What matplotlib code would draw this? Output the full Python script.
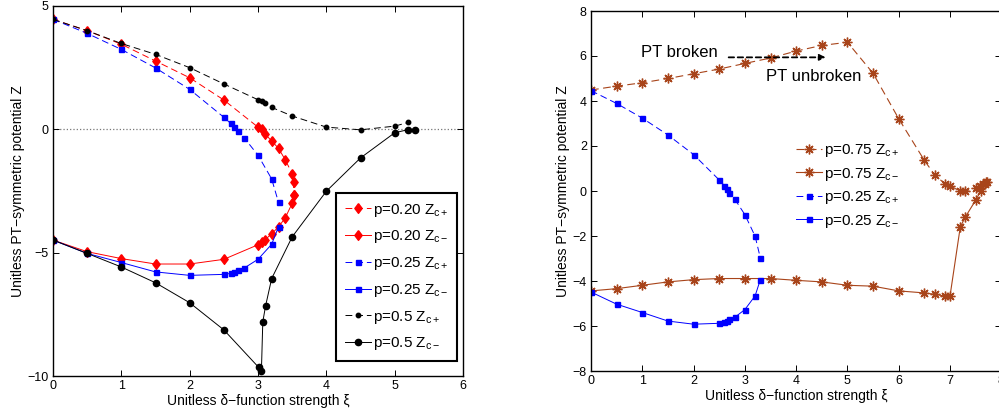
import matplotlib
matplotlib.use("Agg")
import matplotlib.pyplot as plt

plt.rcParams["font.family"] = ["Liberation Sans", "DejaVu Sans"]
plt.rcParams["mathtext.fontset"] = "custom"
plt.rcParams["mathtext.rm"] = "Liberation Sans"
plt.rcParams["mathtext.it"] = "Liberation Sans:italic"
plt.rcParams["lines.dashed_pattern"] = (7, 4)

# ---- left panel data ----
x20_plus = [0, 0.5, 1, 1.5, 2, 2.5, 3.0, 3.06, 3.1, 3.2, 3.3, 3.4, 3.5, 3.52, 3.52]
z20_plus = [4.46, 4.0, 3.45, 2.77, 2.09, 1.19, 0.09, 0.0, -0.18, -0.47, -0.77, -1.24, -1.8, -2.13, -2.66]
x20_minus = [0, 0.5, 1, 1.5, 2, 2.5, 3.0, 3.06, 3.1, 3.2, 3.3, 3.4, 3.5, 3.52]
z20_minus = [-4.49, -4.96, -5.24, -5.46, -5.46, -5.27, -4.68, -4.58, -4.49, -4.23, -3.96, -3.58, -3.0, -2.66]

x25_plus = [0, 0.5, 1, 1.5, 2, 2.5, 2.6, 2.65, 2.7, 2.8, 3.0, 3.2, 3.3]
z25_plus = [4.46, 3.89, 3.24, 2.49, 1.62, 0.49, 0.24, 0.09, -0.07, -0.35, -1.05, -2.01, -2.96]
x25_minus = [0, 0.5, 1, 1.5, 2, 2.5, 2.6, 2.65, 2.7, 2.8, 3.0, 3.2, 3.3]
z25_minus = [-4.49, -5.03, -5.4, -5.78, -5.92, -5.88, -5.84, -5.77, -5.7, -5.62, -5.27, -4.66, -3.95]

x50_plus = [0, 0.5, 1, 1.5, 2, 2.5, 3.0, 3.06, 3.1, 3.2, 3.5, 4.0, 4.5, 5.0, 5.2]
z50_plus = [4.46, 4.0, 3.48, 3.04, 2.5, 1.84, 1.2, 1.13, 1.08, 0.89, 0.54, 0.09, -0.02, 0.13, 0.28]
x50_minus = [0, 0.5, 1, 1.5, 2, 2.5, 3.01, 3.05, 3.07, 3.11, 3.2, 3.5, 4.0, 4.5, 5.0, 5.2, 5.3]
z50_minus = [-4.49, -5.03, -5.58, -6.22, -7.03, -8.13, -9.65, -9.79, -7.81, -7.17, -6.05, -4.36, -2.51, -1.16, -0.14, -0.01, -0.03]

# ---- right panel data ----
x75_plus = [0, 0.5, 1, 1.5, 2, 2.5, 3, 3.5, 4, 4.5, 5, 5.5, 6, 6.5, 6.7, 6.9, 7.0,
            7.2, 7.3, 7.5, 7.58, 7.65, 7.7]
z75_plus = [4.49, 4.66, 4.81, 5.0, 5.21, 5.42, 5.67, 5.91, 6.22, 6.47, 6.61, 5.23, 3.21, 1.36, 0.72, 0.32, 0.23,
            -0.01, 0.0, 0.14, 0.21, 0.29, 0.38]
x75_minus = [0, 0.5, 1, 1.5, 2, 2.5, 3, 3.5, 4, 4.5, 5, 5.5, 6, 6.5, 6.7, 6.9, 7.0,
             7.2, 7.3, 7.5, 7.6, 7.68, 7.73]
z75_minus = [-4.44, -4.34, -4.19, -4.04, -3.94, -3.89, -3.89, -3.89, -3.97, -4.04, -4.19, -4.23, -4.44, -4.53,
             -4.59, -4.67, -4.67, -1.6, -1.15, -0.41, 0.0, 0.32, 0.39]

brown = "#a8441a"

fig = plt.figure(figsize=(9.99, 4.11), dpi=100)
ax1 = fig.add_axes([53 / 999, 35 / 411, 410 / 999, 370 / 411])
ax2 = fig.add_axes([591 / 999, 40 / 411, 410.3 / 999, 360 / 411])

diamond = [(0, 1), (0.75, 0), (0, -1), (-0.75, 0), (0, 1)]

# left panel
ax1.axhline(0, color="#777777", linestyle=":", linewidth=0.9, zorder=1)
ax1.plot(x20_plus, z20_plus, "--", color="red", marker=diamond, markersize=7, lw=0.7,
         label=r"p=0.20 Z$_{\mathrm{c+}}$")
ax1.plot(x20_minus, z20_minus, "-", color="red", marker=diamond, markersize=7, lw=0.7,
         label=r"p=0.20 Z$_{\mathrm{c-}}$")
ax1.plot(x25_plus, z25_plus, "--", color="blue", marker="s", markersize=3.6, lw=0.7,
         label=r"p=0.25 Z$_{\mathrm{c+}}$")
ax1.plot(x25_minus, z25_minus, "-", color="blue", marker="s", markersize=3.6, lw=0.7,
         label=r"p=0.25 Z$_{\mathrm{c-}}$")
ax1.plot(x50_plus, z50_plus, "--", color="black", marker="o", markersize=3.2, lw=0.7,
         label=r"p=0.5 Z$_{\mathrm{c+}}$")
ax1.plot(x50_minus, z50_minus, "-", color="black", marker="o", markersize=4.5, lw=0.7,
         label=r"p=0.5 Z$_{\mathrm{c-}}$")
ax1.set_xlim(0, 6)
ax1.set_ylim(-10, 5)
ax1.set_xticks(range(0, 7))
ax1.set_yticks([-10, -5, 0, 5])
ax1.set_xlabel("Unitless \u03b4\u2212function strength \u03be", fontsize=10, labelpad=1)
ax1.set_ylabel("Unitless PT\u2212symmetric potential Z", fontsize=10, labelpad=2)
leg1 = ax1.legend(loc="lower right", bbox_to_anchor=(0.985, 0.041), borderaxespad=0,
                  fontsize=11, handlelength=1.7, handletextpad=0.15, labelspacing=0.64,
                  fancybox=False, edgecolor="black", framealpha=1, borderpad=0.55)
leg1.get_frame().set_linewidth(1.5)

# right panel
ax2.plot(x75_plus, z75_plus, "--", color=brown, marker=(8, 2, 0), markersize=7, lw=0.8,
         label=r"p=0.75 Z$_{\mathrm{c+}}$")
ax2.plot(x75_minus, z75_minus, "-", color=brown, marker=(8, 2, 0), markersize=7, lw=0.8,
         label=r"p=0.75 Z$_{\mathrm{c-}}$")
ax2.plot(x25_plus, z25_plus, "--", color="blue", marker="s", markersize=3.6, lw=0.7,
         label=r"p=0.25 Z$_{\mathrm{c+}}$")
ax2.plot(x25_minus, z25_minus, "-", color="blue", marker="s", markersize=3.6, lw=0.7,
         label=r"p=0.25 Z$_{\mathrm{c-}}$")
ax2.set_xlim(0, 8)
ax2.set_ylim(-8, 8)
ax2.set_xticks(range(0, 9))
ax2.set_yticks(range(-8, 9, 2))
ax2.set_xlabel("Unitless \u03b4\u2212function strength \u03be", fontsize=10, labelpad=1)
ax2.set_ylabel("Unitless PT\u2212symmetric potential Z", fontsize=10, labelpad=2)
ax2.legend(loc="upper left", bbox_to_anchor=(0.485, 0.652), borderaxespad=0,
           fontsize=11, handlelength=1.7, handletextpad=0.15, labelspacing=0.42,
           frameon=False)

ax2.text(0.97, 6.14, "PT broken", fontsize=12, va="center", ha="left")
ax2.text(3.41, 5.11, "PT unbroken", fontsize=12, va="center", ha="left")
ax2.annotate("", xy=(4.63, 5.94), xytext=(2.63, 5.94),
             arrowprops=dict(arrowstyle="-|>", linestyle=(0, (3, 2)), color="black", lw=1.3,
                             mutation_scale=9))

for ax in (ax1, ax2):
    ax.tick_params(direction="in", top=True, right=True, length=4, width=0.7,
                   labelsize=9, pad=3)
    for s in ax.spines.values():
        s.set_linewidth(1.0)

plt.savefig("out.png", dpi=100)
